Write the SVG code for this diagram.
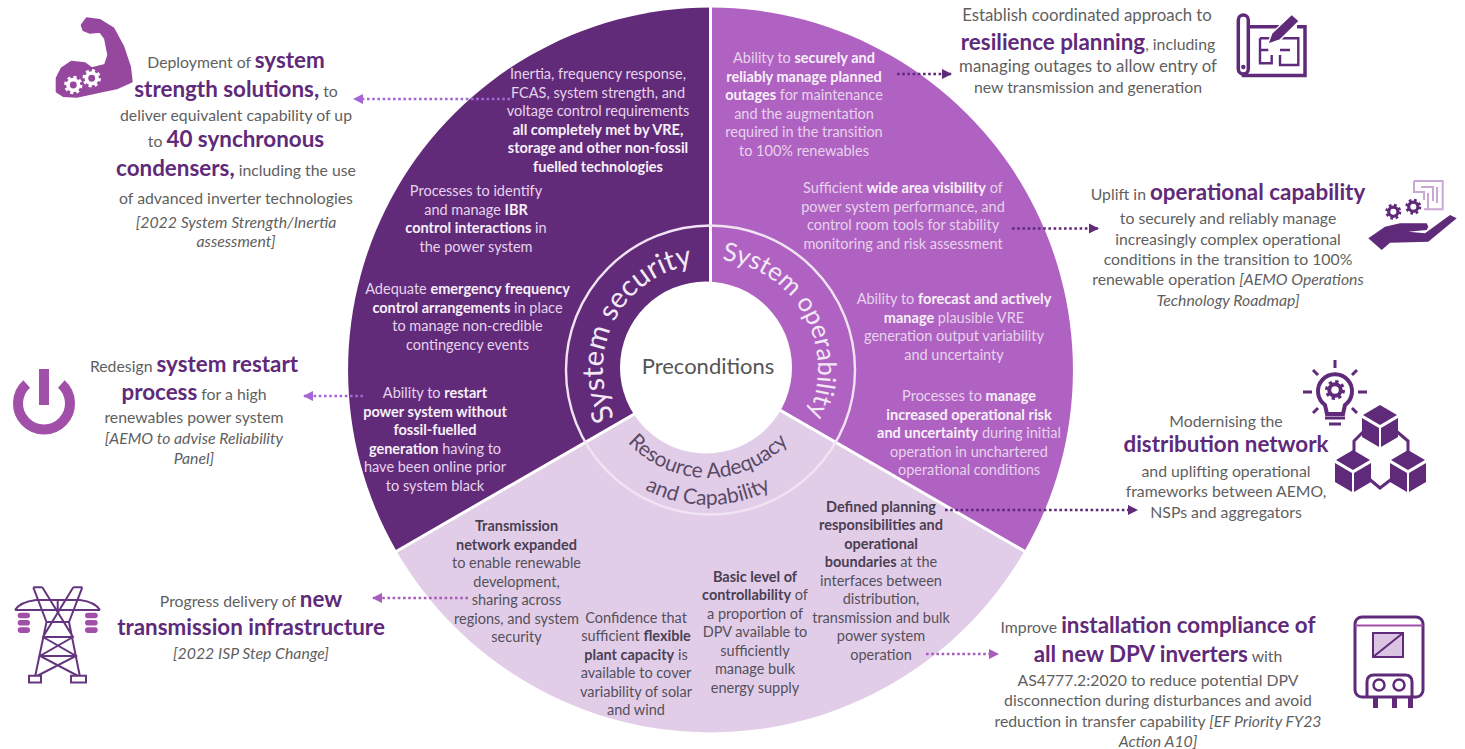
<svg xmlns="http://www.w3.org/2000/svg" xmlns:xlink="http://www.w3.org/1999/xlink" width="1465" height="749" viewBox="0 0 1465 749">
<style>
text{font-family:"Lato","Open Sans","Liberation Sans",sans-serif;text-anchor:middle}
.in{font-size:14.5px;fill:#e6d3ec}
.inl{font-size:14.5px;fill:#54505a}
.inw{font-weight:700;fill:#f7f0f9}
.out{font-size:15.8px;fill:#5f5f5f}
.wide{font-size:16.8px}
.i{font-style:italic}
.hd{font-size:22.4px;font-weight:700;fill:#5f2a7a}
.bl{font-weight:700;fill:#4a3f52}
.ring{font-size:29px;fill:#f3e9f6}
.ic{fill:none;stroke:#5f2a7a;stroke-width:3}
.icf{fill:#5f2a7a}
.dl{fill:none;stroke-width:2.6;stroke-dasharray:2.6 2.6}
.lp{stroke:#a766d6}.mp{stroke:#a85cbc}.dp{stroke:#5f2a7a}
</style>
<defs>
<marker id="aL" viewBox="0 0 10 10" refX="9" refY="5" markerWidth="4" markerHeight="4" orient="auto"><path d="M0 0L10 5L0 10Z" fill="#a766d6"/></marker>
<marker id="aM" viewBox="0 0 10 10" refX="9" refY="5" markerWidth="4" markerHeight="4" orient="auto"><path d="M0 0L10 5L0 10Z" fill="#a85cbc"/></marker>
<marker id="aD" viewBox="0 0 10 10" refX="9" refY="5" markerWidth="4" markerHeight="4" orient="auto"><path d="M0 0L10 5L0 10Z" fill="#5f2a7a"/></marker>
<g id="gear" fill="none" stroke="currentColor"><circle r="6.5" stroke-width="3" stroke-dasharray="2.55 2.55"/><circle r="4.6" stroke-width="3.2"/></g>
<g id="cube"><path d="M0 -20L17 -10L0 0L-17 -10Z" fill="#5f2a7a"/><path d="M-18 -7L-1 3V22L-18 12Z" fill="#5f2a7a"/><path d="M18 -7L1 3V22L18 12Z" fill="#5f2a7a"/></g>
<path id="pSec" d="M672.1 467.7A105 105 0 1 1 766.7 282"/>
<path id="pOp" d="M638.8 283.500A110 110 0 1 1 743.900 473"/>
<path id="pRes1" d="M600.700 388A109 109 0 0 0 815.300 388"/>
<path id="pRes2" d="M574.100 392.700A136 136 0 0 0 841.900 392.700"/>
</defs>
<rect width="1465" height="749" fill="#fff"/>

<g id="wheel">
<path d="M710.5 370L710.5 7.5A362.5 362.5 0 0 0 396.6 551.2Z" fill="#622b7a"/>
<path d="M710.5 370L710.5 7.5A362.5 362.5 0 0 1 1024.4 551.2Z" fill="#b062c2"/>
<path d="M710.5 370L396.6 551.2A362.5 362.5 0 0 0 1024.4 551.2Z" fill="#e2cde9"/>
<path d="M710.5 370V6M710.5 370L394 552.7M710.5 370L1027 552.7" fill="none" stroke="#fff" stroke-width="3"/>
<circle cx="710.5" cy="370" r="144.5" fill="none" stroke="#f0e4f3" stroke-width="2.4"/>
<circle cx="706" cy="367.5" r="86" fill="#fff"/>
</g>

<g id="sector-security">
<text class="ring"><textPath href="#pSec" startOffset="50%">System security</textPath></text>
<text class="in" x="598" y="79">Inertia, frequency response,</text>
<text class="in" x="598" y="97.5">FCAS, system strength, and</text>
<text class="in" x="598" y="116">voltage control requirements</text>
<text class="in inw" x="598" y="134.5">all completely met by VRE,</text>
<text class="in inw" x="598" y="153">storage and other non-fossil</text>
<text class="in inw" x="598" y="171.5">fuelled technologies</text>
<text class="in" x="476" y="196">Processes to identify</text>
<text class="in" x="476" y="214.5">and manage <tspan class="inw">IBR</tspan></text>
<text class="in" x="476" y="233"><tspan class="inw">control interactions</tspan> in</text>
<text class="in" x="476" y="251.5">the power system</text>
<text class="in" x="467.5" y="294">Adequate <tspan class="inw">emergency frequency</tspan></text>
<text class="in" x="467.5" y="312.5"><tspan class="inw">control arrangements</tspan> in place</text>
<text class="in" x="467.5" y="331">to manage non-credible</text>
<text class="in" x="467.5" y="349.5">contingency events</text>
<text class="in" x="435" y="398">Ability to <tspan class="inw">restart</tspan></text>
<text class="in inw" x="435" y="416.5">power system without</text>
<text class="in inw" x="435" y="435">fossil-fuelled</text>
<text class="in" x="435" y="453.5"><tspan class="inw">generation</tspan> having to</text>
<text class="in" x="435" y="472">have been online prior</text>
<text class="in" x="435" y="490.5">to system black</text>
</g>

<g id="sector-operability">
<text class="ring" style="font-size:25.5px"><textPath href="#pOp" startOffset="50%">System operability</textPath></text>
<text class="in" x="804" y="63">Ability to <tspan class="inw">securely and</tspan></text>
<text class="in inw" x="804" y="81.5">reliably manage planned</text>
<text class="in" x="804" y="100"><tspan class="inw">outages</tspan> for maintenance</text>
<text class="in" x="804" y="118.5">and the augmentation</text>
<text class="in" x="804" y="137">required in the transition</text>
<text class="in" x="804" y="155.5">to 100% renewables</text>
<text class="in" x="903" y="193">Sufficient <tspan class="inw">wide area visibility</tspan> of</text>
<text class="in" x="903" y="211.5">power system performance, and</text>
<text class="in" x="903" y="230">control room tools for stability</text>
<text class="in" x="903" y="248.5">monitoring and risk assessment</text>
<text class="in" x="954" y="304">Ability to <tspan class="inw">forecast and actively</tspan></text>
<text class="in" x="954" y="322.5"><tspan class="inw">manage</tspan> plausible VRE</text>
<text class="in" x="954" y="341">generation output variability</text>
<text class="in" x="954" y="359.5">and uncertainty</text>
<text class="in" x="969" y="401">Processes to <tspan class="inw">manage</tspan></text>
<text class="in inw" x="969" y="419.5">increased operational risk</text>
<text class="in" x="969" y="438"><tspan class="inw">and uncertainty</tspan> during initial</text>
<text class="in" x="969" y="456.5">operation in unchartered</text>
<text class="in" x="969" y="475">operational conditions</text>
</g>

<g id="sector-adequacy">
<text style="font-size:21px;fill:#5a4a66"><textPath href="#pRes1" startOffset="50%">Resource Adequacy</textPath></text>
<text style="font-size:21px;fill:#5a4a66"><textPath href="#pRes2" startOffset="50%">and Capability</textPath></text>
<text class="inl bl" x="516.5" y="531">Transmission</text>
<text class="inl bl" x="516.5" y="549.5">network expanded</text>
<text class="inl" x="516.5" y="568">to enable renewable</text>
<text class="inl" x="516.5" y="586.5">development,</text>
<text class="inl" x="516.5" y="605">sharing across</text>
<text class="inl" x="516.5" y="623.5">regions, and system</text>
<text class="inl" x="516.5" y="642">security</text>
<text class="inl" x="636" y="622.5">Confidence that</text>
<text class="inl" x="636" y="641">sufficient <tspan class="bl">flexible</tspan></text>
<text class="inl" x="636" y="659.5"><tspan class="bl">plant capacity</tspan> is</text>
<text class="inl" x="636" y="678">available to cover</text>
<text class="inl" x="636" y="696.5">variability of solar</text>
<text class="inl" x="636" y="715">and wind</text>
<text class="inl bl" x="755" y="581.5">Basic level of</text>
<text class="inl" x="755" y="600"><tspan class="bl">controllability</tspan> of</text>
<text class="inl" x="755" y="618.5">a proportion of</text>
<text class="inl" x="755" y="637">DPV available to</text>
<text class="inl" x="755" y="655.5">sufficiently</text>
<text class="inl" x="755" y="674">manage bulk</text>
<text class="inl" x="755" y="692.5">energy supply</text>
<text class="inl bl" x="881" y="511.5">Defined planning</text>
<text class="inl bl" x="881" y="530">responsibilities and</text>
<text class="inl bl" x="881" y="548.5">operational</text>
<text class="inl" x="881" y="567"><tspan class="bl">boundaries</tspan> at the</text>
<text class="inl" x="881" y="585.5">interfaces between</text>
<text class="inl" x="881" y="604">distribution,</text>
<text class="inl" x="881" y="622.5">transmission and bulk</text>
<text class="inl" x="881" y="641">power system</text>
<text class="inl" x="881" y="659.5">operation</text>
</g>

<g id="centre"><text x="708" y="374" style="font-size:22px;fill:#555">Preconditions</text></g>

<g id="connectors">
<path class="dl lp" d="M510 99H354" marker-end="url(#aL)"/>
<path class="dl lp" d="M363 396H304" marker-end="url(#aL)"/>
<path class="dl mp" d="M468 598H373" marker-end="url(#aM)"/>
<path class="dl dp" d="M897 74H951" marker-end="url(#aD)"/>
<path class="dl dp" d="M1012 228.500H1098" marker-end="url(#aD)"/>
<path class="dl dp" d="M945 510H1137" marker-end="url(#aD)"/>
<path class="dl mp" d="M926 654H998" marker-end="url(#aM)"/>
</g>

<g id="node-strength">
<path d="M81.700 25L86.700 18.300L100 20L113.300 28.300L123.300 46.700L130 66.700L131.700 81.700L116.700 88.300L100 91.700L76.700 96.700L63.300 96L56.700 91.700L56.700 78.300L61.700 68.300L71.700 61.700L85 63.300L91.700 68.300L105 65L108.300 55L105 38.300L100 31.700L90 32.700L83.300 30Z" fill="#96489f" stroke="#96489f" stroke-width="2" stroke-linejoin="round"/>
<g color="#fff"><use href="#gear" transform="translate(73.300 85) scale(1.15)"/><use href="#gear" transform="translate(91.700 78.300) scale(1.15)"/></g>
<text class="out" x="236" y="68">Deployment of <tspan class="hd">system</tspan></text>
<text class="out" x="236" y="97"><tspan class="hd">strength solutions,</tspan> to</text>
<text class="out" x="236" y="120.500">deliver equivalent capability of up</text>
<text class="out" x="236" y="147">to <tspan class="hd">40 synchronous</tspan></text>
<text class="out" x="236" y="175.500"><tspan class="hd">condensers,</tspan> including the use</text>
<text class="out" x="236" y="204">of advanced inverter technologies</text>
<text class="out i" x="236" y="227.500">[2022 System Strength/Inertia</text>
<text class="out i" x="236" y="247">assessment]</text>
</g>

<g id="node-restart">
<path d="M26.700 384A26 26 0 1 0 61.300 384" fill="none" stroke="#a14fa9" stroke-width="10"/>
<rect x="39" y="369" width="10" height="36" fill="#a14fa9"/>
<text class="out" x="194" y="371.500">Redesign <tspan class="hd">system restart</tspan></text>
<text class="out" x="194" y="400"><tspan class="hd">process</tspan> for a high</text>
<text class="out" x="194" y="423">renewables power system</text>
<text class="out i" x="194" y="444">[AEMO to advise Reliability</text>
<text class="out i" x="194" y="464">Panel]</text>
</g>

<g id="node-transmission">
<path d="M33.300 587.300H42.300M73.300 587.300H82.300M33.300 587.300L46.500 622L35 677M82.300 587.300L69 622L80 677M42.300 587.300L73 637L40 656L80 677M73.300 587.300L43 637L76 656L35 677M15 610H100M15 610Q20 602 36 600H80Q95 602 100 610M57.700 600V610M46.500 622H69M43 637H73M40 656H76" fill="none" stroke="#65367f" stroke-width="2"/>
<path d="M29 675.700h12v6.700h-12zM71 675.700h15v6.700h-15z" fill="#fff" stroke="#65367f" stroke-width="2"/>
<g fill="#a14fa9"><rect x="17.700" y="612.700" width="12.300" height="5.600" rx="2.800"/><rect x="17.700" y="620" width="12.300" height="5.600" rx="2.800"/><rect x="17.700" y="627.300" width="12.300" height="5.600" rx="2.800"/><rect x="85" y="612.700" width="12.700" height="5.600" rx="2.800"/><rect x="85" y="620" width="12.700" height="5.600" rx="2.800"/><rect x="85" y="627.300" width="12.700" height="5.600" rx="2.800"/></g>
<text class="out" x="251" y="606.500">Progress delivery of <tspan class="hd">new</tspan></text>
<text class="hd" x="251" y="635">transmission infrastructure</text>
<text class="out i" x="251" y="659">[2022 ISP Step Change]</text>
</g>

<g id="node-resilience">
<rect x="1238.300" y="15" width="10" height="59" rx="5" class="ic" style="stroke-width:3.500"/>
<circle cx="1243.300" cy="67" r="2.200" class="icf"/>
<path d="M1248 26.700H1287M1297 26.700H1305V75.500H1241.700" class="ic" style="stroke-width:3.500"/>
<path d="M1260 38.300H1270M1260 38.300V63.300H1271.700V55M1260 50H1268.300M1281.700 38.300H1298.300V65H1280V55M1280 50H1290" class="ic" style="stroke-width:2.400"/>
<path d="M1267.700 44.300L1271.700 33.300L1291.700 14.300L1299.300 21L1280 40Z" class="icf" stroke="#fff" stroke-width="1.500"/>
<text class="out wide" x="1087" y="21">Establish coordinated approach to</text>
<text class="out" x="1088" y="50"><tspan class="hd">resilience planning</tspan>, including</text>
<text class="out wide" x="1088" y="72">managing outages to allow entry of</text>
<text class="out" x="1088" y="93">new transmission and generation</text>
</g>

<g id="node-operational">
<path d="M1414 181H1442.700V209.300H1424M1414 181V192H1424V200M1421 187H1433V201M1428 193V209M1437 187V203" fill="none" stroke="#c9a8d6" stroke-width="2"/>
<g color="#5f2a7a"><use href="#gear" x="1393.300" y="211.700"/><use href="#gear" x="1413.300" y="206.700"/></g>
<path d="M1368.300 238.300L1385 226.700L1400 223.300H1426.700L1428.300 226.700L1426.700 230L1408.300 231.700L1425 233.300L1450 215L1456.700 218.300L1428.300 241.700L1390 242.700L1381.700 250Z" class="icf"/>
<text class="out" x="1228" y="200">Uplift in <tspan class="hd">operational capability</tspan></text>
<text class="out" x="1228" y="224">to securely and reliably manage</text>
<text class="out" x="1228" y="244.500">increasingly complex operational</text>
<text class="out" x="1228" y="265">conditions in the transition to 100%</text>
<text class="out" x="1228" y="285">renewable operation <tspan class="i">[AEMO Operations</tspan></text>
<text class="out i" x="1228" y="305.500">Technology Roadmap]</text>
</g>

<g id="node-distribution">
<path d="M1325 405A17 17 0 1 1 1345 405L1343 414H1327Z" fill="none" stroke="#5f2a7a" stroke-width="4"/>
<g color="#5f2a7a"><use href="#gear" transform="translate(1335 390) scale(1.25)"/></g>
<path d="M1335 360V368M1303 392H1312M1358 392H1367M1313 370L1318 375M1357 370L1352 375M1313 413L1318 408M1357 413L1352 408" stroke="#5f2a7a" stroke-width="3" fill="none"/>
<path d="M1325 418H1345M1329 424H1341" stroke="#5f2a7a" stroke-width="3" fill="none"/>
<use href="#cube" x="1380" y="425"/><use href="#cube" x="1353" y="470"/><use href="#cube" x="1408" y="470"/>
<path d="M1365 430L1354 441V456M1395 430L1408 441V456M1368 478L1380 488L1393 478" fill="none" stroke="#5f2a7a" stroke-width="3"/>
<text class="out" x="1226" y="426.500">Modernising the</text>
<text class="hd" x="1226" y="452">distribution network</text>
<text class="out" x="1226" y="476.500">and uplifting operational</text>
<text class="out" x="1226" y="496.500">frameworks between AEMO,</text>
<text class="out" x="1226" y="517.500">NSPs and aggregators</text>
</g>

<g id="node-dpv">
<rect x="1355" y="617" width="68" height="80" rx="7" class="ic"/>
<path d="M1355 625.500H1423" stroke="#a14fa9" stroke-width="2" fill="none"/>
<rect x="1373" y="633" width="30" height="24" fill="#dcc4e3" stroke="#5f2a7a" stroke-width="2"/>
<path d="M1373 657L1403 633" stroke="#5f2a7a" stroke-width="2"/>
<path d="M1367 697V682Q1367 675 1374 675H1405Q1412 675 1412 682V697" class="ic"/>
<circle cx="1379" cy="685" r="5.500" class="ic" style="stroke-width:2.500"/><circle cx="1399" cy="685" r="5.500" class="ic" style="stroke-width:2.500"/>
<path d="M1375.500 697V708M1394.500 697V708M1410.500 697V708" stroke="#5f2a7a" stroke-width="5" fill="none"/>
<text class="out" x="1158" y="632.500">Improve <tspan class="hd">installation compliance of</tspan></text>
<text class="out" x="1158" y="662"><tspan class="hd">all new DPV inverters</tspan> with</text>
<text class="out" x="1158" y="685.500">AS4777.2:2020 to reduce potential DPV</text>
<text class="out" x="1158" y="706">disconnection during disturbances and avoid</text>
<text class="out" x="1158" y="726.500">reduction in transfer capability <tspan class="i">[EF Priority FY23</tspan></text>
<text class="out i" x="1158" y="746.500">Action A10]</text>
</g>
</svg>
